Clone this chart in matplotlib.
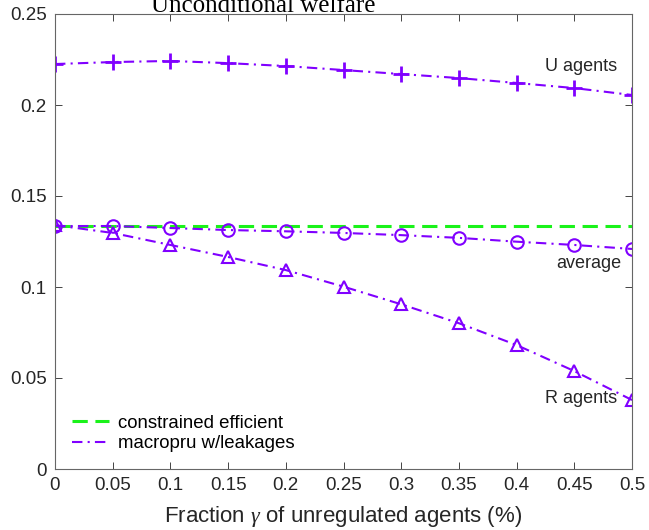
import numpy as np
import matplotlib
matplotlib.use("Agg")
import matplotlib.pyplot as plt
from matplotlib.ticker import FuncFormatter
from matplotlib.lines import Line2D

gamma = [0, 0.05, 0.1, 0.15, 0.2, 0.25, 0.3, 0.35, 0.4, 0.45, 0.5]
u_agents = [0.2225, 0.2236, 0.2242, 0.2230, 0.2214, 0.2192, 0.2170, 0.2148, 0.2121, 0.2093, 0.2055]
average = [0.1335, 0.1335, 0.1324, 0.1313, 0.1306, 0.1297, 0.1285, 0.1270, 0.1249, 0.1231, 0.1209]
r_agents = [0.1340, 0.1297, 0.1231, 0.1165, 0.1093, 0.1002, 0.0905, 0.0801, 0.0681, 0.0538, 0.0379]
constrained = [0.1337] * len(gamma)

purple = (0.5, 0.0, 1.0)
green = (0.1, 0.95, 0.1)

plt.rcParams['font.family'] = ['Liberation Sans', 'DejaVu Sans']
plt.rcParams['mathtext.fontset'] = 'custom'
plt.rcParams['mathtext.it'] = 'Liberation Serif:italic'

fig = plt.figure(figsize=(6.49, 5.30), dpi=100)
ax = fig.add_axes([55/649, 61/530, 577/649, 455/530])

dd = (0, (5, 2.5, 1, 2.5))
ax.plot(gamma, constrained, color=green, lw=2.2, ls=(0, (5, 2.5)))
ax.plot(gamma, average, color=purple, lw=1.5, ls=dd, marker='o', ms=9, mfc='none', mew=1.5)
ax.plot(gamma, u_agents, color=purple, lw=1.5, ls=dd, marker='+', ms=11, mew=2)
ax.plot(gamma, r_agents, color=purple, lw=1.5, ls=dd, marker='^', ms=9, mfc='none', mew=1.5)

ax.set_xlim(0, 0.5)
ax.set_ylim(0, 0.25)
ax.set_xticks(gamma)
ax.set_yticks([0, 0.05, 0.1, 0.15, 0.2, 0.25])
fmt = FuncFormatter(lambda v, p: '%g' % round(v, 4))
ax.xaxis.set_major_formatter(fmt)
ax.yaxis.set_major_formatter(fmt)
ax.tick_params(direction='in', top=True, right=True, labelsize=13.5, length=5, width=0.6,
               colors='#262626', pad=6)
for s in ax.spines.values():
    s.set_color('#666666')
    s.set_linewidth(0.8)

ax.set_xlabel(r'Fraction $\gamma$ of unregulated agents (%)', fontsize=16, color='#262626', labelpad=7)

ax.text(0.487, 0.2210, 'U agents', fontsize=13, ha='right', va='center', color='#262626')
ax.text(0.491, 0.1130, 'average', fontsize=13, ha='right', va='center', color='#262626')
ax.text(0.487, 0.0385, 'R agents', fontsize=13, ha='right', va='center', color='#262626')

handles = [Line2D([], [], color=green, lw=2.2, ls=(0, (5, 2.5))),
           Line2D([], [], color=purple, lw=1.5, ls=dd)]
leg = ax.legend(handles, ['constrained efficient', 'macropru w/leakages'],
                loc='lower left', frameon=False, fontsize=13.4, handlelength=2.0,
                bbox_to_anchor=(0.0, 0.0), labelspacing=0.18, handletextpad=0.5)

fig.text(263.5/649, 1.0 - 12/530, 'Unconditional welfare', fontsize=18, family='Liberation Serif',
         ha='center', va='baseline', color='#000000')

fig.savefig('out.png', dpi=100)
